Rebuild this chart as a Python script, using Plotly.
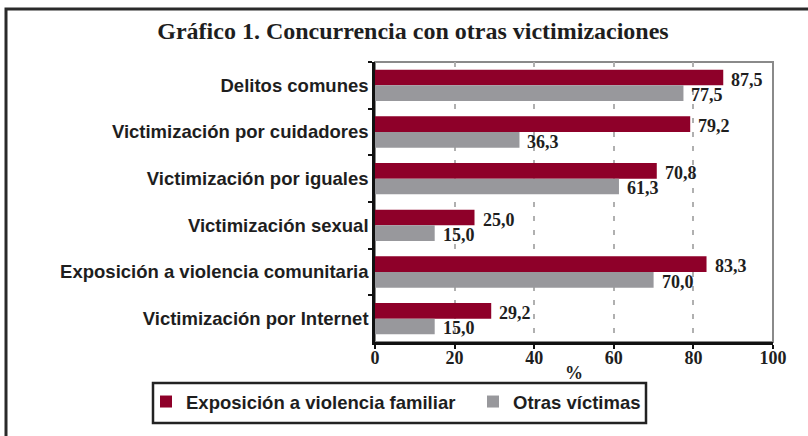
import plotly.graph_objects as go

categories = [
    "Delitos comunes",
    "Victimización por cuidadores",
    "Victimización por iguales",
    "Victimización sexual",
    "Exposición a violencia comunitaria",
    "Victimización por Internet",
]
familiar = [87.5, 79.2, 70.8, 25.0, 83.3, 29.2]
otras = [77.5, 36.3, 61.3, 15.0, 70.0, 15.0]
series_names = ["Exposición a violencia familiar", "Otras víctimas"]
x_ticks = [0, 20, 40, 60, 80, 100]

RED = "#8E0029"
GRAY = "#98989C"
SERIF = "Liberation Serif"
SANS = "Liberation Sans"
INK = "#1e1e1e"

W, H = 808, 436
L, R, T, B = 375, 35, 62, 94
pw, ph = W - L - R, H - T - B
BARGAP = 0.33
band = ph / len(categories)
bar_h = band * (1 - BARGAP) / 2


def fmt(v):
    return f"{v:.1f}".replace(".", ",")


def px2paper_x(px):
    return (px - L) / pw


def px2paper_y(py):
    return (H - B - py) / ph


fig = go.Figure()
annotations = []
for i, (name, vals, col) in enumerate([(series_names[0], familiar, RED), (series_names[1], otras, GRAY)]):
    fig.add_trace(go.Bar(
        y=categories, x=vals, orientation="h", name=name,
        marker=dict(color=col, line=dict(width=0)),
    ))
    shift = (bar_h / 2 if i == 0 else -bar_h / 2) - 2
    for cat, v in zip(categories, vals):
        annotations.append(dict(
            x=v, y=cat, xref="x", yref="y", text=fmt(v), showarrow=False,
            xanchor="left", yanchor="middle", xshift=6, yshift=shift,
            font=dict(family=SERIF, size=18, color=INK, weight="bold"),
        ))

fig.update_layout(
    width=W, height=H,
    margin=dict(l=L, r=R, t=T, b=B, autoexpand=False),
    paper_bgcolor="white", plot_bgcolor="white",
    barmode="group", bargap=BARGAP, bargroupgap=0,
    title=dict(
        text="Gráfico 1. Concurrencia con otras victimizaciones",
        font=dict(family=SERIF, size=24, color=INK, weight="bold"),
        xref="container", yref="container",
        x=413 / W, xanchor="center", y=1 - 31 / H, yanchor="middle",
    ),
    xaxis=dict(
        range=[0, 100], tickvals=x_ticks, ticktext=[str(v) for v in x_ticks],
        showgrid=True, gridcolor="#B0B0B0", gridwidth=2, griddash="5px,9px",
        zeroline=False, showline=True, linecolor="#111", linewidth=2.5,
        ticks="outside", ticklen=4, tickwidth=2, tickcolor="#111",
        tickfont=dict(family=SERIF, size=18, color=INK, weight="bold"),
        ticklabelstandoff=-6,
        title=dict(text="%", font=dict(family=SERIF, size=18, color=INK, weight="bold"), standoff=0),
    ),
    yaxis=dict(
        autorange="reversed", showgrid=False, zeroline=False,
        showline=True, linecolor="#111", linewidth=2.5,
        ticks="outside", tickson="boundaries", ticklen=4, tickwidth=2, tickcolor="#111",
        tickfont=dict(family=SANS, size=18.5, color=INK, weight="bold"),
        ticklabelstandoff=0,
    ),
    showlegend=True,
    legend=dict(
        orientation="h", x=px2paper_x(146), xanchor="left",
        y=px2paper_y(383), yanchor="top",
        borderwidth=0, bgcolor="rgba(0,0,0,0)",
        font=dict(family=SANS, size=18.5, color=INK, weight="bold"),
        traceorder="normal", entrywidth=282, entrywidthmode="pixels",
    ),
    annotations=annotations,
    shapes=[
        dict(type="rect", xref="x domain", yref="y domain", x0=0, x1=1, y0=0, y1=1,
             line=dict(color="#8a8a8a", width=2), layer="below"),
        dict(type="rect", xref="paper", yref="paper",
             x0=px2paper_x(6), x1=px2paper_x(815), y0=px2paper_y(445), y1=px2paper_y(9),
             line=dict(color="#2a2a2a", width=3), layer="below"),
        dict(type="rect", xref="paper", yref="paper",
             x0=px2paper_x(153), x1=px2paper_x(646), y0=px2paper_y(423), y1=px2paper_y(383),
             line=dict(color="#222", width=2.5), fillcolor="white", layer="above"),
    ],
)

fig.write_html("out.html")
